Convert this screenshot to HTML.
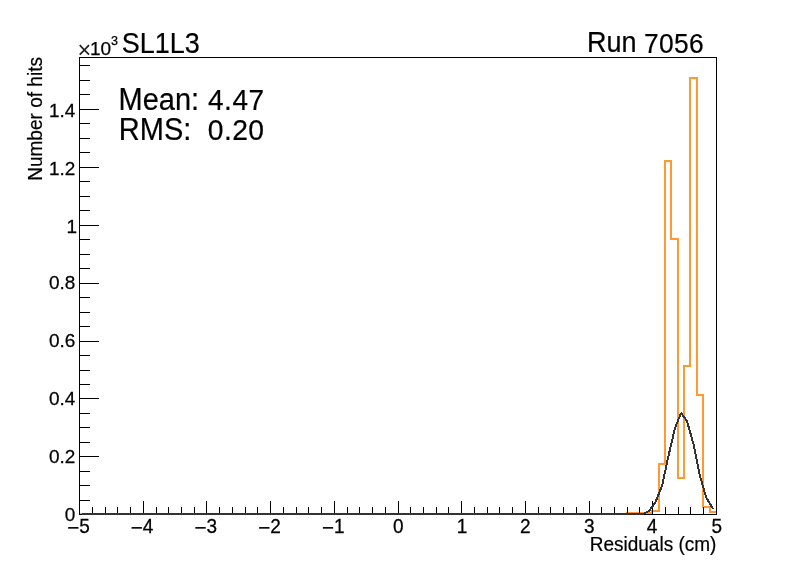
<!DOCTYPE html>
<html><head><meta charset="utf-8"><title>SL1L3 Residuals</title>
<style>html,body{margin:0;padding:0;background:#fff;overflow:hidden}body{width:796px;height:572px;position:relative}text{font-family:"Liberation Sans",sans-serif;fill:#000;white-space:pre}</style></head>
<body>
<svg width="796" height="572" viewBox="0 0 796 572" style="position:absolute;left:0;top:0">
<rect width="796" height="572" fill="#fff"/>
<g shape-rendering="crispEdges">
<rect x="79" y="513" width="549" height="2" fill="#ff9933"/>
<rect x="626" y="512" width="2" height="3" fill="#ff9933"/>
<rect x="626" y="512" width="8" height="2" fill="#ff9933"/>
<rect x="632" y="512" width="8" height="2" fill="#ff9933"/>
<rect x="638" y="512" width="9" height="2" fill="#ff9933"/>
<rect x="645" y="512" width="8" height="2" fill="#ff9933"/>
<rect x="651" y="510" width="2" height="4" fill="#ff9933"/>
<rect x="651" y="510" width="9" height="2" fill="#ff9933"/>
<rect x="658" y="463" width="2" height="49" fill="#ff9933"/>
<rect x="658" y="463" width="8" height="2" fill="#ff9933"/>
<rect x="664" y="160" width="2" height="305" fill="#ff9933"/>
<rect x="664" y="160" width="8" height="2" fill="#ff9933"/>
<rect x="670" y="160" width="2" height="80" fill="#ff9933"/>
<rect x="670" y="238" width="9" height="2" fill="#ff9933"/>
<rect x="677" y="238" width="2" height="241" fill="#ff9933"/>
<rect x="677" y="477" width="8" height="2" fill="#ff9933"/>
<rect x="683" y="365" width="2" height="114" fill="#ff9933"/>
<rect x="683" y="365" width="8" height="2" fill="#ff9933"/>
<rect x="689" y="77" width="2" height="290" fill="#ff9933"/>
<rect x="689" y="77" width="9" height="2" fill="#ff9933"/>
<rect x="696" y="77" width="2" height="319" fill="#ff9933"/>
<rect x="696" y="394" width="8" height="2" fill="#ff9933"/>
<rect x="702" y="394" width="2" height="114" fill="#ff9933"/>
<rect x="702" y="506" width="9" height="2" fill="#ff9933"/>
<rect x="709" y="506" width="2" height="7" fill="#ff9933"/>
<rect x="709" y="511" width="8" height="2" fill="#ff9933"/>
<rect x="79" y="57" width="638" height="1" fill="#000"/>
<rect x="79" y="514" width="638" height="1" fill="#000"/>
<rect x="79" y="57" width="1" height="458" fill="#000"/>
<rect x="716" y="57" width="1" height="458" fill="#000"/>
<rect x="79" y="501" width="1" height="14" fill="#000"/>
<rect x="92" y="507" width="1" height="8" fill="#000"/>
<rect x="105" y="507" width="1" height="8" fill="#000"/>
<rect x="117" y="507" width="1" height="8" fill="#000"/>
<rect x="130" y="507" width="1" height="8" fill="#000"/>
<rect x="143" y="501" width="1" height="14" fill="#000"/>
<rect x="156" y="507" width="1" height="8" fill="#000"/>
<rect x="168" y="507" width="1" height="8" fill="#000"/>
<rect x="181" y="507" width="1" height="8" fill="#000"/>
<rect x="194" y="507" width="1" height="8" fill="#000"/>
<rect x="206" y="501" width="1" height="14" fill="#000"/>
<rect x="219" y="507" width="1" height="8" fill="#000"/>
<rect x="232" y="507" width="1" height="8" fill="#000"/>
<rect x="245" y="507" width="1" height="8" fill="#000"/>
<rect x="257" y="507" width="1" height="8" fill="#000"/>
<rect x="270" y="501" width="1" height="14" fill="#000"/>
<rect x="283" y="507" width="1" height="8" fill="#000"/>
<rect x="296" y="507" width="1" height="8" fill="#000"/>
<rect x="308" y="507" width="1" height="8" fill="#000"/>
<rect x="321" y="507" width="1" height="8" fill="#000"/>
<rect x="334" y="501" width="1" height="14" fill="#000"/>
<rect x="347" y="507" width="1" height="8" fill="#000"/>
<rect x="359" y="507" width="1" height="8" fill="#000"/>
<rect x="372" y="507" width="1" height="8" fill="#000"/>
<rect x="385" y="507" width="1" height="8" fill="#000"/>
<rect x="398" y="501" width="1" height="14" fill="#000"/>
<rect x="410" y="507" width="1" height="8" fill="#000"/>
<rect x="423" y="507" width="1" height="8" fill="#000"/>
<rect x="436" y="507" width="1" height="8" fill="#000"/>
<rect x="448" y="507" width="1" height="8" fill="#000"/>
<rect x="461" y="501" width="1" height="14" fill="#000"/>
<rect x="474" y="507" width="1" height="8" fill="#000"/>
<rect x="487" y="507" width="1" height="8" fill="#000"/>
<rect x="499" y="507" width="1" height="8" fill="#000"/>
<rect x="512" y="507" width="1" height="8" fill="#000"/>
<rect x="525" y="501" width="1" height="14" fill="#000"/>
<rect x="538" y="507" width="1" height="8" fill="#000"/>
<rect x="550" y="507" width="1" height="8" fill="#000"/>
<rect x="563" y="507" width="1" height="8" fill="#000"/>
<rect x="576" y="507" width="1" height="8" fill="#000"/>
<rect x="589" y="501" width="1" height="14" fill="#000"/>
<rect x="601" y="507" width="1" height="8" fill="#000"/>
<rect x="614" y="507" width="1" height="8" fill="#000"/>
<rect x="627" y="507" width="1" height="8" fill="#000"/>
<rect x="639" y="507" width="1" height="8" fill="#000"/>
<rect x="652" y="501" width="1" height="14" fill="#000"/>
<rect x="665" y="507" width="1" height="8" fill="#000"/>
<rect x="678" y="507" width="1" height="8" fill="#000"/>
<rect x="690" y="507" width="1" height="8" fill="#000"/>
<rect x="703" y="507" width="1" height="8" fill="#000"/>
<rect x="716" y="501" width="1" height="14" fill="#000"/>
<rect x="79" y="514" width="20" height="1" fill="#000"/>
<rect x="79" y="500" width="11" height="1" fill="#000"/>
<rect x="79" y="485" width="11" height="1" fill="#000"/>
<rect x="79" y="471" width="11" height="1" fill="#000"/>
<rect x="79" y="456" width="20" height="1" fill="#000"/>
<rect x="79" y="442" width="11" height="1" fill="#000"/>
<rect x="79" y="427" width="11" height="1" fill="#000"/>
<rect x="79" y="413" width="11" height="1" fill="#000"/>
<rect x="79" y="398" width="20" height="1" fill="#000"/>
<rect x="79" y="384" width="11" height="1" fill="#000"/>
<rect x="79" y="370" width="11" height="1" fill="#000"/>
<rect x="79" y="355" width="11" height="1" fill="#000"/>
<rect x="79" y="341" width="20" height="1" fill="#000"/>
<rect x="79" y="326" width="11" height="1" fill="#000"/>
<rect x="79" y="312" width="11" height="1" fill="#000"/>
<rect x="79" y="297" width="11" height="1" fill="#000"/>
<rect x="79" y="283" width="20" height="1" fill="#000"/>
<rect x="79" y="268" width="11" height="1" fill="#000"/>
<rect x="79" y="254" width="11" height="1" fill="#000"/>
<rect x="79" y="239" width="11" height="1" fill="#000"/>
<rect x="79" y="225" width="20" height="1" fill="#000"/>
<rect x="79" y="210" width="11" height="1" fill="#000"/>
<rect x="79" y="196" width="11" height="1" fill="#000"/>
<rect x="79" y="181" width="11" height="1" fill="#000"/>
<rect x="79" y="167" width="20" height="1" fill="#000"/>
<rect x="79" y="152" width="11" height="1" fill="#000"/>
<rect x="79" y="138" width="11" height="1" fill="#000"/>
<rect x="79" y="123" width="11" height="1" fill="#000"/>
<rect x="79" y="109" width="20" height="1" fill="#000"/>
<rect x="79" y="94" width="11" height="1" fill="#000"/>
<rect x="79" y="80" width="11" height="1" fill="#000"/>
<rect x="79" y="65" width="11" height="1" fill="#000"/>
<polyline points="82,514 89,514 95,514 101,514 108,514 114,514 120,514 127,514 133,514 140,514 146,514 152,514 159,514 165,514 171,514 178,514 184,514 191,514 197,514 203,514 210,514 216,514 222,514 229,514 235,514 241,514 248,514 254,514 261,514 267,514 273,514 280,514 286,514 292,514 299,514 305,514 312,514 318,514 324,514 331,514 337,514 343,514 350,514 356,514 362,514 369,514 375,514 382,514 388,514 394,514 401,514 407,514 413,514 420,514 426,514 433,514 439,514 445,514 452,514 458,514 464,514 471,514 477,514 483,514 490,514 496,514 503,514 509,514 515,514 522,514 528,514 534,514 541,514 547,514 554,514 560,514 566,514 573,514 579,514 585,514 592,514 598,514 604,514 611,514 617,514 624,514 630,514 636,514 643,514 649,511 655,503 662,486 668,458 675,428 681,413 687,421 694,446 700,476 706,497 713,509" fill="none" stroke="#333333" stroke-width="2" stroke-linejoin="bevel"/>
</g>
<text transform="translate(0,0)" font-size="19" stroke="#000" stroke-width="0.25"><tspan x="77.5" y="57.6" font-size="23.5" stroke="none" fill="#222">×</tspan><tspan x="90.0" y="55.1">10</tspan><tspan x="111.0" y="44.7" font-size="12.6">3</tspan></text>
<text transform="translate(121.8,52.7) scale(1,1.06)" font-size="27" stroke="#000" stroke-width="0.2">SL1L<tspan dy="0.7">3</tspan></text>
<text transform="translate(704.0,52.0) scale(1,1.06)" font-size="27" text-anchor="end" stroke="#000" stroke-width="0.2">Run <tspan font-size="26.4" letter-spacing="0.33" dy="0.7">7056</tspan></text>
<text transform="translate(118.6,109.8) scale(1,1.05)" font-size="29" stroke="#000" stroke-width="0.2">Mean: <tspan font-size="28" letter-spacing="0.55" dx="0.8">4.47</tspan></text>
<text transform="translate(118.8,139.8) scale(1,1.05)" font-size="29" stroke="#000" stroke-width="0.2">RMS:  <tspan font-size="28.3" letter-spacing="0.4" dx="0.4" dy="0.6">0.20</tspan></text>
<text transform="translate(75.35,521.4) scale(1,1.01)" font-size="19" text-anchor="end" stroke="#000" stroke-width="0.25">0</text>
<text transform="translate(75.35,463.1) scale(1,1.01)" font-size="19" text-anchor="end" stroke="#000" stroke-width="0.25">0.2</text>
<text transform="translate(75.35,405.2) scale(1,1.01)" font-size="19" text-anchor="end" stroke="#000" stroke-width="0.25">0.4</text>
<text transform="translate(75.35,347.3) scale(1,1.01)" font-size="19" text-anchor="end" stroke="#000" stroke-width="0.25">0.6</text>
<text transform="translate(75.35,289.3) scale(1,1.01)" font-size="19" text-anchor="end" stroke="#000" stroke-width="0.25">0.8</text>
<text transform="translate(77.0,232.9) scale(1,1.01)" font-size="19" text-anchor="end" stroke="#000" stroke-width="0.25">1</text>
<text transform="translate(75.35,175.0) scale(1,1.01)" font-size="19" text-anchor="end" stroke="#000" stroke-width="0.25">1.2</text>
<text transform="translate(75.35,117.1) scale(1,1.01)" font-size="19" text-anchor="end" stroke="#000" stroke-width="0.25">1.4</text>
<text transform="translate(78.45,533.4) scale(1,1.04)" font-size="19" text-anchor="middle" stroke="#000" stroke-width="0.25"><tspan font-size="20.6" dy="1.5">−</tspan><tspan dy="-1.5">5</tspan></text>
<text transform="translate(142.13,533.4) scale(1,1.04)" font-size="19" text-anchor="middle" stroke="#000" stroke-width="0.25"><tspan font-size="20.6" dy="1.5">−</tspan><tspan dy="-1.5">4</tspan></text>
<text transform="translate(205.81,533.4) scale(1,1.04)" font-size="19" text-anchor="middle" stroke="#000" stroke-width="0.25"><tspan font-size="20.6" dy="1.5">−</tspan><tspan dy="-1.5">3</tspan></text>
<text transform="translate(269.49,533.4) scale(1,1.04)" font-size="19" text-anchor="middle" stroke="#000" stroke-width="0.25"><tspan font-size="20.6" dy="1.5">−</tspan><tspan dy="-1.5">2</tspan></text>
<text transform="translate(333.17,533.4) scale(1,1.04)" font-size="19" text-anchor="middle" stroke="#000" stroke-width="0.25"><tspan font-size="20.6" dy="1.5">−</tspan><tspan dy="-1.5">1</tspan></text>
<text transform="translate(398.2,533.4) scale(1,1.04)" font-size="19" text-anchor="middle" stroke="#000" stroke-width="0.25">0</text>
<text transform="translate(461.98,533.4) scale(1,1.04)" font-size="19" text-anchor="middle" stroke="#000" stroke-width="0.25">1</text>
<text transform="translate(525.36,533.4) scale(1,1.04)" font-size="19" text-anchor="middle" stroke="#000" stroke-width="0.25">2</text>
<text transform="translate(589.24,533.4) scale(1,1.04)" font-size="19" text-anchor="middle" stroke="#000" stroke-width="0.25">3</text>
<text transform="translate(652.12,533.4) scale(1,1.04)" font-size="19" text-anchor="middle" stroke="#000" stroke-width="0.25">4</text>
<text transform="translate(716.7,533.4) scale(1,1.04)" font-size="19" text-anchor="middle" stroke="#000" stroke-width="0.25">5</text>
<text transform="translate(716.4,551.0) scale(1,1.02)" font-size="19" text-anchor="end" stroke="#000" stroke-width="0.2">Residuals (cm)</text>
<text transform="translate(42.3,57.0) rotate(-90) scale(1,1.02)" font-size="19.05" text-anchor="end" stroke="#000" stroke-width="0.2">Number of hits</text>
</svg>
</body></html>
